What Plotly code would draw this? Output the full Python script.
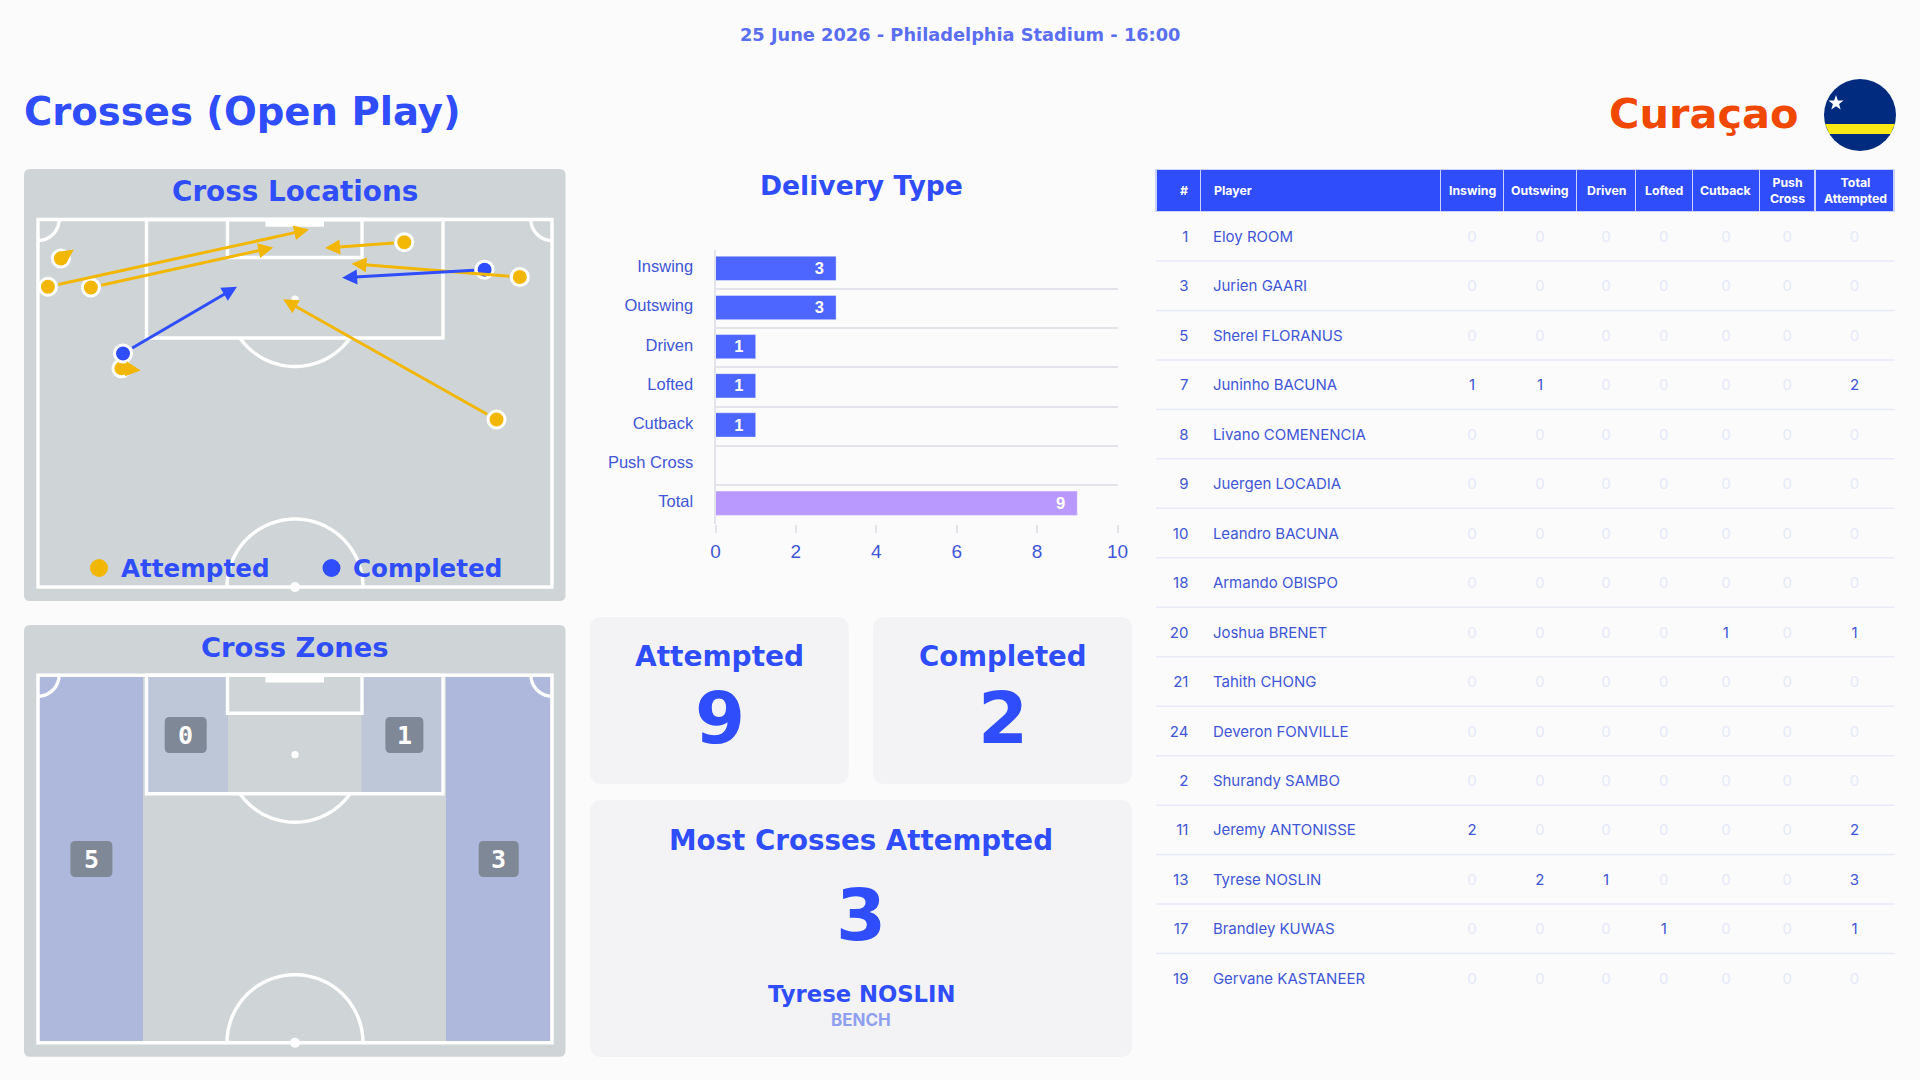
import numpy as np
import plotly.graph_objects as go

# delivery type bars
delivery_types = ['Inswing', 'Outswing', 'Driven', 'Lofted', 'Cutback', 'Push Cross', 'Total']
delivery_counts = [3, 3, 1, 1, 1, 0, 9]

# crosses in opta style coordinates (across 0-100, along 50-100)
att_x0 = [4.8, 2.3, 10.6, 71.1, 93.4, 88.9, 16.5]
att_y0 = [94.5, 90.7, 90.6, 96.7, 92.0, 72.8, 79.7]
att_x1 = [7.3, 52.7, 45.8, 55.8, 60.9, 47.7, 20.2]
att_y1 = [95.7, 98.4, 96.0, 95.9, 93.8, 89.0, 79.4]
comp_x0 = [16.8, 86.6]
comp_y0 = [81.7, 93.0]
comp_x1 = [38.8, 59.1]
comp_y1 = [90.7, 91.9]

# zone counts
zone_far_left = 5
zone_box_left = 0
zone_box_right = 1
zone_far_right = 3

# table
col_names = ['#', 'Player', 'Inswing', 'Outswing', 'Driven', 'Lofted', 'Cutback', 'Push<br>Cross', 'Total<br>Attempted']
shirt = [1, 3, 5, 7, 8, 9, 10, 18, 20, 21, 24, 2, 11, 13, 17, 19]
players = ['Eloy ROOM', 'Jurien GAARI', 'Sherel FLORANUS', 'Juninho BACUNA', 'Livano COMENENCIA',
           'Juergen LOCADIA', 'Leandro BACUNA', 'Armando OBISPO', 'Joshua BRENET', 'Tahith CHONG',
           'Deveron FONVILLE', 'Shurandy SAMBO', 'Jeremy ANTONISSE', 'Tyrese NOSLIN', 'Brandley KUWAS',
           'Gervane KASTANEER']
inswing = [0, 0, 0, 1, 0, 0, 0, 0, 0, 0, 0, 0, 2, 0, 0, 0]
outswing = [0, 0, 0, 1, 0, 0, 0, 0, 0, 0, 0, 0, 0, 2, 0, 0]
driven = [0, 0, 0, 0, 0, 0, 0, 0, 0, 0, 0, 0, 0, 1, 0, 0]
lofted = [0, 0, 0, 0, 0, 0, 0, 0, 0, 0, 0, 0, 0, 0, 1, 0]
cutback = [0, 0, 0, 0, 0, 0, 0, 0, 1, 0, 0, 0, 0, 0, 0, 0]
push_cross = [0] * 16
total_att = [0, 0, 0, 2, 0, 0, 0, 0, 1, 0, 0, 0, 2, 3, 1, 0]

BG = '#FBFBFC'
BLUE = '#2F4DFA'
YELLOW = '#F2B705'
HEAD = 'DejaVu Sans'
PANEL = '#CFD5D6'
CARD = '#F3F3F5'
W, H = 1920, 1080

shapes = []
notes = []


def dom_x(a, b):
    return [a / W, b / W]


def dom_y(top, bottom):
    return [1 - bottom / H, 1 - top / H]


def rrect(x0, y0, x1, y1, r, fill):
    path = (f'M{x0 + r},{y0} L{x1 - r},{y0} Q{x1},{y0} {x1},{y0 + r} L{x1},{y1 - r} Q{x1},{y1} {x1 - r},{y1} '
            f'L{x0 + r},{y1} Q{x0},{y1} {x0},{y1 - r} L{x0},{y0 + r} Q{x0},{y0} {x0 + r},{y0} Z')
    shapes.append(dict(type='path', path=path, xref='x', yref='y', fillcolor=fill, line_width=0, layer='below'))


def rect(x0, y0, x1, y1, fill=None, line=None, lw=3.4):
    shapes.append(dict(type='rect', x0=x0, y0=y0, x1=x1, y1=y1, xref='x', yref='y', layer='below',
                       fillcolor=fill if fill else 'rgba(0,0,0,0)',
                       line=dict(color=line if line else 'rgba(0,0,0,0)', width=lw if line else 0)))


def dot(cx, cy, r, fill):
    shapes.append(dict(type='circle', x0=cx - r, x1=cx + r, y0=cy - r, y1=cy + r, xref='x', yref='y',
                       fillcolor=fill, line_width=0, layer='below'))


def arc(cx, cy, r, a0, a1, color='white', lw=3.4):
    t = np.radians(np.linspace(a0, a1, 48))
    pts = [f'{cx + r * np.cos(a):.2f},{cy + r * np.sin(a):.2f}' for a in t]
    shapes.append(dict(type='path', path='M' + ' L'.join(pts), xref='x', yref='y', layer='below',
                       line=dict(color=color, width=lw)))


def text(x, y, s, size, color=BLUE, family=HEAD, bold=True, anchor='center'):
    if bold:
        s = f'<b>{s}</b>'
    notes.append(dict(x=x, y=y, xref='x', yref='y', text=s, showarrow=False, xanchor=anchor, yanchor='middle',
                      font=dict(family=family, size=size, color=color)))


def pitch(dy):
    rect(38, 219.5 + dy, 552, 587 + dy, line='white')
    rect(146.5, 219.5 + dy, 443, 338 + dy, line='white')
    rect(227.5, 219.5 + dy, 362, 257.5 + dy, line='white')
    rect(265.5, 219 + dy, 324, 226.7 + dy, fill='white')
    dot(295, 299 + dy, 3.6, 'white')
    arc(295, 299 + dy, 67.5, 36, 144)
    arc(295, 587 + dy, 68, 180, 360)
    dot(295, 587 + dy, 5, 'white')
    arc(38, 219.5 + dy, 21, 0, 90)
    arc(552, 219.5 + dy, 21, 90, 180)


def badge(cx, cy, w, value):
    rrect(cx - w / 2, cy - 18, cx + w / 2, cy + 18, 5, '#7F8896')
    text(cx, cy, str(value), 25, color='white', family='DejaVu Sans Mono')


fig = go.Figure()
# empty trace keeps the full page pixel axes alive
fig.add_trace(go.Scatter(x=[], y=[], xaxis='x', yaxis='y', showlegend=False))

# header
text(960, 34.5, '25 June 2026 - Philadelphia Stadium - 16:00', 17.8, color='#5A6EF0')
text(22, 111, 'Crosses (Open Play)', 38.6, anchor='left')
text(1703.5, 113, 'Curaçao', 41.5, color='#F04800')

# flag
fx, fy, fr = 1860, 115, 36
dot(fx, fy, fr, '#002B7F')
sy0, sy1 = 124, 134
w0 = np.sqrt(fr ** 2 - (sy0 - fy) ** 2)
w1 = np.sqrt(fr ** 2 - (sy1 - fy) ** 2)
shapes.append(dict(type='path', xref='x', yref='y', fillcolor='#F9E814', line_width=0, layer='below',
                   path=f'M{fx - w0},{sy0} L{fx + w0},{sy0} L{fx + w1},{sy1} L{fx - w1},{sy1} Z'))
ang = np.radians(np.arange(10) * 36 - 90)
rad = np.where(np.arange(10) % 2 == 0, 8, 3.2)
star = ' L'.join(f'{1836 + r * np.cos(a):.2f},{103 + r * np.sin(a):.2f}' for r, a in zip(rad, ang))
shapes.append(dict(type='path', xref='x', yref='y', fillcolor='white', line_width=0, layer='below',
                   path=f'M{star} Z'))

# cross locations panel
rrect(24, 169, 565.5, 601, 6, PANEL)
pitch(0)
text(295, 191.5, 'Cross Locations', 27.8)
dot(99, 568, 9, YELLOW)
text(118.5, 568, 'Attempted', 24.6, anchor='left')
dot(331.5, 568, 9, BLUE)
text(350.5, 568, 'Completed', 24.6, anchor='left')

fig.add_trace(go.Scatter(x=att_x0, y=att_y0, mode='markers', xaxis='x2', yaxis='y2', showlegend=False,
                         marker=dict(size=17, color=YELLOW, line=dict(color='white', width=3))))
fig.add_trace(go.Scatter(x=comp_x0, y=comp_y0, mode='markers', xaxis='x2', yaxis='y2', showlegend=False,
                         marker=dict(size=17, color=BLUE, line=dict(color='white', width=3))))


def arrows(xs0, ys0, xs1, ys1, color):
    for a, b, c, d in zip(xs0, ys0, xs1, ys1):
        notes.append(dict(x=c, y=d, ax=a, ay=b, xref='x2', yref='y2', axref='x2', ayref='y2', text='',
                          showarrow=True, arrowhead=2, arrowsize=1, arrowwidth=3, arrowcolor=color,
                          startstandoff=9))


arrows(att_x0, att_y0, att_x1, att_y1, YELLOW)
arrows(comp_x0, comp_y0, comp_x1, comp_y1, BLUE)

# cross zones panel
dz = 455.7
rrect(24, 625, 565.5, 1056.7, 6, PANEL)
rect(39.5, 219 + dz, 143, 586 + dz, fill='#AEB8DC')
rect(446, 219 + dz, 550, 586 + dz, fill='#AEB8DC')
rect(147, 219 + dz, 228, 337 + dz, fill='#BDC7D8')
rect(361.5, 219 + dz, 443, 337 + dz, fill='#BDC7D8')
pitch(dz)
text(295, 647.5, 'Cross Zones', 27.4)
badge(185.7, 735, 42, zone_box_left)
badge(404.4, 735, 38, zone_box_right)
badge(91.4, 859, 42, zone_far_left)
badge(498.7, 859, 40, zone_far_right)

# delivery type
text(861.5, 185, 'Delivery Type', 26.6)
bar_colors = ['#4D66FF'] * 6 + ['#BA99FF']
bar_text = [f'{v}\u00a0\u00a0' if v else '' for v in delivery_counts]
fig.add_trace(go.Bar(x=delivery_counts, y=delivery_types, orientation='h', xaxis='x3', yaxis='y3',
                     marker=dict(color=bar_colors, line=dict(color='rgba(255,255,255,0.4)', width=1)),
                     text=bar_text, textposition='inside', insidetextanchor='end', textangle=0,
                     textfont=dict(family='Liberation Sans', size=19, color='white', weight='bold'),
                     showlegend=False, width=0.62, offset=-0.34))

# stat cards
rrect(590, 617, 848.6, 784, 12, CARD)
rrect(873, 617, 1132, 784, 12, CARD)
rrect(590, 800, 1132, 1057, 12, CARD)
text(719.5, 656.5, 'Attempted', 28)
text(719.5, 718, '9', 72)
text(1003, 656.5, 'Completed', 27.6)
text(1003, 718, '2', 72)
text(861, 840, 'Most Crosses Attempted', 27.7)
text(861, 915, '3', 72)
text(861, 994, 'Tyrese NOSLIN', 22.7)
text(861, 1020, 'BENCH', 17, color='#8F9FF0', family='Inter')

# table
ink = '#3F56D6'
zero = '#E6E9F8'
stat_cols = [inswing, outswing, driven, lofted, cutback, push_cross, total_att]
col_widths = [44.7, 240.2, 62.8, 73.2, 58.9, 57, 67.3, 55.5, 79.1]
cell_values = [[f'{n}\u00a0' for n in shirt], ['\u00a0' + p for p in players]] + stat_cols
cell_colors = [[ink] * 16, [ink] * 16] + [[ink if v else zero for v in c] for c in stat_cols]
table_x = dom_x(1156, 1894.6)
row_h = 49.47
fig.add_trace(go.Table(domain=dict(x=table_x, y=dom_y(169.3, 214)), columnwidth=col_widths,
                       header=dict(values=[''] * 9, fill_color=BLUE, height=42,
                                   line=dict(color='#C9D2FF', width=1.5)),
                       cells=dict(values=[[] for _ in col_names])))
fig.add_trace(go.Table(domain=dict(x=table_x, y=dom_y(222.5, 1075)), columnwidth=col_widths,
                       header=dict(values=[''] * 9, height=0.1, fill_color='rgba(0,0,0,0)',
                                   line=dict(color='rgba(0,0,0,0)', width=0)),
                       cells=dict(values=cell_values, height=row_h, fill_color='rgba(0,0,0,0)',
                                  align=['right', 'left'] + ['center'] * 7,
                                  line=dict(color='rgba(0,0,0,0)', width=0),
                                  font=dict(family='Inter', size=15, color=cell_colors))))
left = 1156
for name, cw in zip(col_names, col_widths):
    if name == 'Player':
        text(left + 11, 190.5, name, 12.3, color='white', family='Inter', anchor='left')
    elif name == '#':
        text(left + cw / 2 + 6, 190.5, name, 12.3, color='white', family='Inter')
    else:
        text(left + cw / 2, 190.5, name, 12.3, color='white', family='Inter')
    left += cw

for i in range(1, 16):
    ly = 211.5 + row_h * i
    shapes.append(dict(type='line', x0=1156, x1=1894.6, y0=ly, y1=ly, xref='x', yref='y', layer='below',
                       line=dict(color='#E8EAF8', width=1.5)))

hidden = dict(visible=False, fixedrange=True)
fig.update_layout(
    width=W, height=H, margin=dict(l=0, r=0, t=0, b=0, pad=0, autoexpand=False), paper_bgcolor=BG,
    plot_bgcolor='rgba(0,0,0,0)',
    showlegend=False, shapes=shapes, annotations=notes,
    xaxis=dict(domain=[0, 1], range=[0, W], **hidden),
    yaxis=dict(domain=[0, 1], range=[H, 0], **hidden),
    xaxis2=dict(domain=dom_x(36, 554), range=[0, 100], anchor='y2', **hidden),
    yaxis2=dict(domain=dom_y(217.7, 588.7), range=[50, 100], anchor='x2', **hidden),
    xaxis3=dict(domain=dom_x(715.5, 1117.5), range=[0, 10], anchor='y3', tick0=0, dtick=2, ticks='outside', ticklen=8,
                tickcolor='#E3E4EA', tickwidth=1.5, showgrid=False, zeroline=False, ticklabelstandoff=2,
                tickfont=dict(family='Liberation Sans', size=19, color=ink)),
    yaxis3=dict(domain=dom_y(250, 524), autorange='reversed', anchor='x3', type='category',
                tickson='boundaries', showgrid=True, gridcolor='#E3E4EA', gridwidth=2, ticks='', ticklabelstandoff=17,
                ticklabelshift=3, showline=True, linecolor='#E3E4EA', linewidth=2, zeroline=False,
                tickfont=dict(family='Liberation Sans', size=16.5, color=ink)),
)

fig.write_html('out.html', config=dict(displayModeBar=False),
               post_script=f"document.body.style.margin='0';document.body.style.background='{BG}';")
